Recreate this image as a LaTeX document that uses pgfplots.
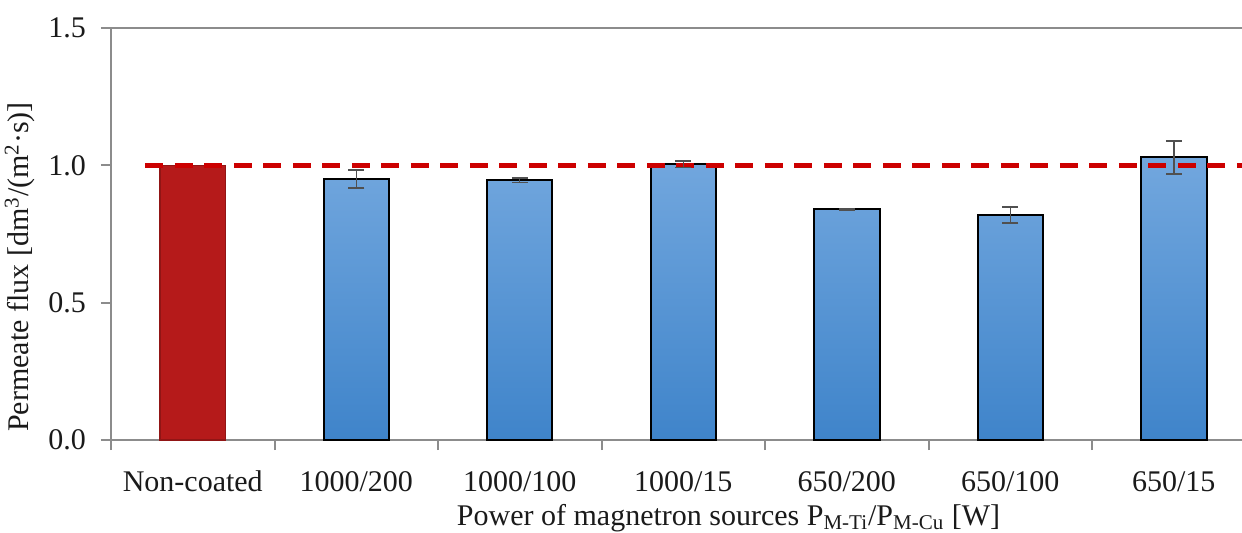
\documentclass[border=0pt]{standalone}
\usepackage{fontspec}
\setmainfont{Liberation Serif}
\usepackage{pgfplots}
\pgfplotsset{compat=1.18}
\definecolor{barred}{HTML}{B51A1A}
\definecolor{bluetop}{HTML}{72A7DE}
\definecolor{bluebot}{HTML}{3F84CA}
\definecolor{dashred}{HTML}{CC0000}
\definecolor{axgray}{HTML}{8C8C8C}
\definecolor{errgray}{HTML}{505050}
\definecolor{txt}{HTML}{1A1A1A}
\begin{document}
\begin{tikzpicture}
\begin{axis}[
  scale only axis, width=565.5pt, height=206pt,
  xmin=-0.5, xmax=6.417, ymin=0, ymax=1.5,
  axis x line*=bottom, axis y line*=left,
  axis line style={draw=axgray, line width=1pt, -},
  every outer x axis line/.append style={-},
  every outer y axis line/.append style={-},
  tick align=outside,
  xtick={0,1,2,3,4,5,6},
  xticklabels={Non-coated,1000/200,1000/100,1000/15,650/200,650/100,650/15},
  every major x tick/.append style={draw=none},
  minor xtick={-0.5,0.5,1.5,2.5,3.5,4.5,5.5},
  minor tick length=5pt,
  every minor x tick/.append style={draw=axgray, line width=1pt},
  ytick={0,0.5,1,1.5},
  ytick style={draw=axgray, line width=1pt},
  major tick length=5pt,
  extra y ticks={1.5},
  extra y tick labels={},
  extra y tick style={grid=major, major grid style={draw=axgray, line width=1pt}, major tick length=0pt},
  yticklabel style={/pgf/number format/fixed, /pgf/number format/fixed zerofill, /pgf/number format/precision=1},
  /pgf/number format/assume math mode=true,
  every tick label/.append style={font=\fontsize{15}{17}\selectfont, text=txt},
  xticklabel style={yshift=-7pt},
  yticklabel style={xshift=-4pt},
  xlabel={Power of magnetron sources P\textsubscript{M-Ti}/P\textsubscript{M-Cu} [W]},
  ylabel={Permeate flux [dm\textsuperscript{3}/(m\textsuperscript{2}·s)]},
  label style={font=\fontsize{15}{17}\selectfont, text=txt},
  xlabel style={at={(axis description cs:0.546,0)}, anchor=north, yshift=-28.5pt},
  ylabel style={at={(axis description cs:0,0.42)}, anchor=center, rotate=0, yshift=45.5pt},
  clip=true,
]
\addplot[ybar, bar width=0.4, bar shift=0pt, fill=barred, draw=barred!80!black, line width=0.8pt]
  coordinates {(0,1.0)};
\addplot[ybar, bar width=0.4, bar shift=0pt, draw=black, line width=1pt, top color=bluetop, bottom color=bluebot]
  coordinates {(1,0.950) (2,0.946) (3,1.004) (4,0.840) (5,0.819) (6,1.029)};
\addplot[dashred, line width=2.5pt, dash pattern=on 9pt off 5.75pt]
  coordinates {(-0.29,1.0) (6.6,1.0)};
\addplot[draw=none, mark=none, forget plot,
  error bars/.cd, y dir=both, y explicit,
  error bar style={draw=errgray, line width=0.7pt},
  error mark options={rotate=90, mark size=4pt, draw=errgray, line width=0.7pt}]
  coordinates {(1,0.950) +- (0,0.033) (2,0.946) +- (0,0.008) (3,1.004) +- (0,0.012)
               (4,0.840) +- (0,0.003) (5,0.819) +- (0,0.029) (6,1.029) +- (0,0.060)};
\end{axis}
\pgfresetboundingbox
\path (-55.5pt,-46pt) rectangle (565.5pt,220pt);
\end{tikzpicture}
\end{document}
